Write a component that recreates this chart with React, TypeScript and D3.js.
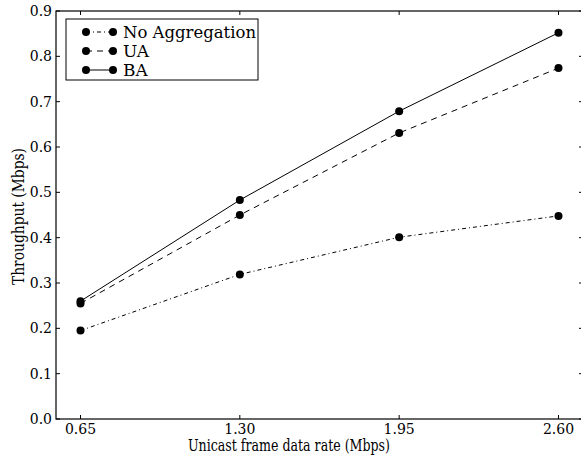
import React, { useEffect, useRef } from 'react';
import * as d3 from 'd3';

const rates = [0.65, 1.3, 1.95, 2.6];
const xTickLabels = ['0.65', '1.30', '1.95', '2.60'];
const yTicks = [0, 0.1, 0.2, 0.3, 0.4, 0.5, 0.6, 0.7, 0.8, 0.9];
const noAggregation = [0.195, 0.319, 0.401, 0.448];
const ua = [0.255, 0.45, 0.631, 0.774];
const ba = [0.26, 0.483, 0.679, 0.852];
const seriesNames = ['No Aggregation', 'UA', 'BA'];

const App = () => {
  const ref = useRef<SVGSVGElement>(null);

  useEffect(() => {
    const margin = { top: 11, left: 56 };
    const width = 527;
    const height = 408;
    const font = "'DejaVu Serif', serif";

    const svg = d3.select(ref.current);
    svg.selectAll('*').remove();

    const g = svg.append('g')
      .attr('transform', 'translate(' + margin.left + ',' + margin.top + ')');

    const x = d3.scaleLinear().domain([0.55, 2.7]).range([0, width]);
    const y = d3.scaleLinear().domain([0, 0.9]).range([height, 0]);

    // frame
    g.append('rect')
      .attr('width', width).attr('height', height)
      .attr('fill', 'none').attr('stroke', 'black').attr('stroke-width', 1.2);

    // ticks (inward, all four sides)
    const tickLen = 4;
    rates.forEach((r, i) => {
      const px = x(r);
      g.append('line').attr('x1', px).attr('x2', px).attr('y1', height).attr('y2', height - tickLen).attr('stroke', 'black');
      g.append('line').attr('x1', px).attr('x2', px).attr('y1', 0).attr('y2', tickLen).attr('stroke', 'black');
      g.append('text').attr('x', px).attr('y', height + 15)
        .attr('text-anchor', 'middle').attr('font-family', font).attr('font-size', 14)
        .text(xTickLabels[i]);
    });
    yTicks.forEach(t => {
      const py = y(t);
      g.append('line').attr('x1', 0).attr('x2', tickLen).attr('y1', py).attr('y2', py).attr('stroke', 'black');
      g.append('line').attr('x1', width).attr('x2', width - tickLen).attr('y1', py).attr('y2', py).attr('stroke', 'black');
      g.append('text').attr('x', -4).attr('y', py + 5)
        .attr('text-anchor', 'end').attr('font-family', font).attr('font-size', 14)
        .text(t.toFixed(1));
    });

    // axis labels
    svg.append('text')
      .attr('x', 188).attr('y', 451)
      .attr('font-family', font).attr('font-size', 16)
      .attr('textLength', 202).attr('lengthAdjust', 'spacingAndGlyphs')
      .text('Unicast frame data rate (Mbps)');
    svg.append('text')
      .attr('transform', 'translate(24,285) rotate(-90)')
      .attr('font-family', font).attr('font-size', 16)
      .attr('textLength', 137).attr('lengthAdjust', 'spacingAndGlyphs')
      .text('Throughput (Mbps)');

    const dashes = ['4,3,1,3', '6,5', null];
    const allSeries = [noAggregation, ua, ba];
    const line = d3.line<number>().x((d, i) => x(rates[i])).y(d => y(d));

    allSeries.forEach((vals, s) => {
      const path = g.append('path').datum(vals)
        .attr('fill', 'none').attr('stroke', 'black').attr('stroke-width', 1)
        .attr('d', line);
      if (dashes[s]) path.attr('stroke-dasharray', dashes[s] as string);
      g.selectAll('.pt' + s).data(vals).enter().append('circle')
        .attr('cx', (d, i) => x(rates[i])).attr('cy', d => y(d))
        .attr('r', 4).attr('fill', 'black');
    });

    // legend
    const lg = svg.append('g');
    lg.append('rect').attr('x', 66).attr('y', 19).attr('width', 192).attr('height', 61)
      .attr('fill', 'white').attr('stroke', 'black').attr('stroke-width', 1);
    const rowsY = [32, 51, 70];
    const textLens = [133, null, null];
    seriesNames.forEach((name, s) => {
      const ly = rowsY[s];
      const l = lg.append('line').attr('x1', 86).attr('x2', 113).attr('y1', ly).attr('y2', ly)
        .attr('stroke', 'black').attr('stroke-width', 1);
      if (dashes[s]) l.attr('stroke-dasharray', dashes[s] as string);
      [86, 113].forEach(cx => lg.append('circle').attr('cx', cx).attr('cy', ly).attr('r', 4).attr('fill', 'black'));
      const t = lg.append('text').attr('x', 123).attr('y', ly + 6)
        .attr('font-family', font).attr('font-size', 17).text(name);
      if (textLens[s]) t.attr('textLength', textLens[s] as number).attr('lengthAdjust', 'spacingAndGlyphs');
    });
  }, []);

  return <svg ref={ref} width={581} height={455} style={{ position: 'absolute', left: 0, top: 0 }} />;
};

export default App;
